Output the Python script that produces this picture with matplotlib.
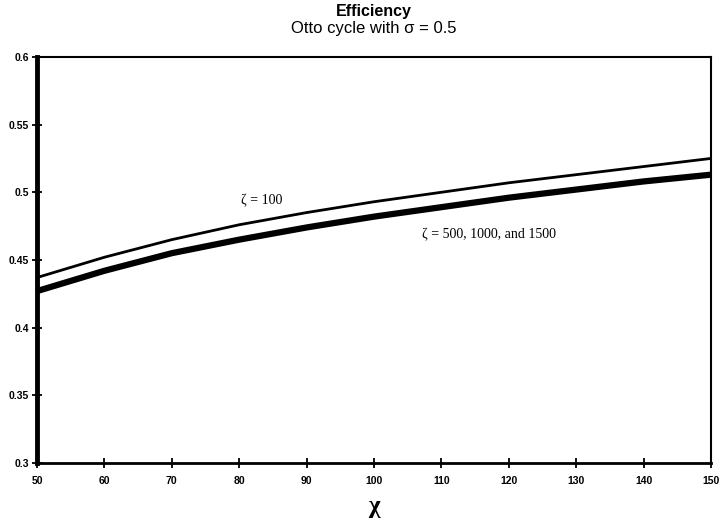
import numpy as np
import matplotlib
matplotlib.use('Agg')
import matplotlib.pyplot as plt

# values
chi = [50, 60, 70, 80, 90, 100, 110, 120, 130, 140, 150]
eff_100 = [0.437, 0.452, 0.465, 0.476, 0.485, 0.493, 0.500, 0.507, 0.513, 0.519, 0.525]
eff_500 = [0.427, 0.442, 0.455, 0.465, 0.474, 0.482, 0.489, 0.496, 0.502, 0.508, 0.513]

xticks = [50, 60, 70, 80, 90, 100, 110, 120, 130, 140, 150]
yticks = [0.3, 0.35, 0.4, 0.45, 0.5, 0.55, 0.6]
ytick_labels = ['0.3', '0.35', '0.4', '0.45', '0.5', '0.55', '0.6']

fig = plt.figure(figsize=(7.2, 5.22), dpi=100)
ax = fig.add_axes([0.0514, 0.113, 0.9361, 0.778])

ax.plot(chi, eff_100, color='k', lw=2.0)
ax.plot(chi, eff_500, color='k', lw=4.5)

ax.set_xlim(50, 150)
ax.set_ylim(0.3, 0.6)
ax.set_xticks(xticks)
ax.set_xticklabels([str(t) for t in xticks])
ax.set_yticks(yticks)
ax.set_yticklabels(ytick_labels)
ax.tick_params(direction='inout', length=7, width=1.3, labelsize=7.5, pad=6)
for lab in ax.get_xticklabels() + ax.get_yticklabels():
    lab.set_fontfamily('Liberation Sans')
    lab.set_fontweight('bold')
ax.tick_params(axis='y', pad=2)

ax.spines['left'].set_linewidth(3.5)
ax.spines['bottom'].set_linewidth(2.0)
ax.spines['top'].set_linewidth(1.5)
ax.spines['right'].set_linewidth(1.5)

serif = ['Liberation Serif', 'DejaVu Serif']
ax.text(83.4, 0.494, '\u03b6 = 100', fontsize=10, family=serif, ha='center', va='center')
ax.text(117.1, 0.4685, '\u03b6 = 500, 1000, and 1500', fontsize=10, family=serif,
        ha='center', va='center')

ax.set_xlabel('\u03c7', fontsize=18, fontweight='bold', family=serif, labelpad=6)

fig.text(0.519, 0.978, 'Efficiency', ha='center', va='center', fontsize=11.5,
         fontweight='bold', family='Liberation Sans')
fig.text(0.519, 0.945, 'Otto cycle with \u03c3 = 0.5', ha='center', va='center',
         fontsize=12, family='Liberation Sans')

fig.savefig('out.png', dpi=100)
